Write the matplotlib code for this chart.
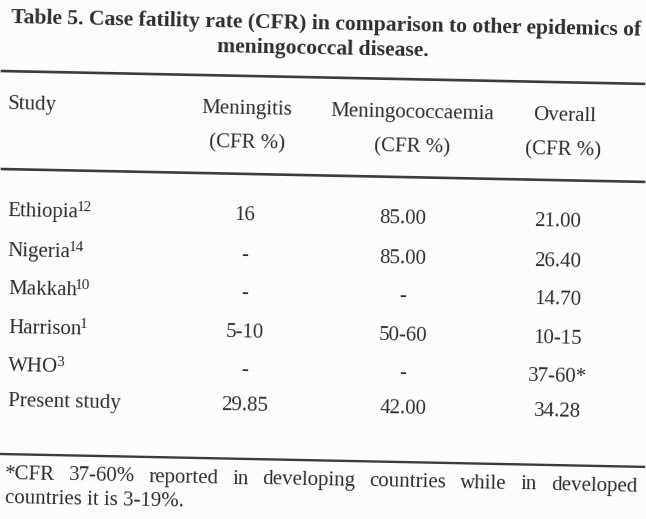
import math
import matplotlib
matplotlib.use("Agg")
import matplotlib.pyplot as plt

plt.rcParams['font.family'] = ['Liberation Serif', 'DejaVu Serif']

W, H = 646, 519
INK = '#2e2e2e'
SLOPE = 0.02   # the scan is slightly tilted: right side sits lower
ANG = -math.degrees(math.atan(SLOPE))

title = ["Table 5. Case fatility rate (CFR) in comparison to other epidemics of",
         "meningococcal disease."]
headers = [("Study", ""), ("Meningitis", "(CFR %)"),
           ("Meningococcaemia", "(CFR %)"), ("Overall", "(CFR %)")]
studies = ["Ethiopia", "Nigeria", "Makkah", "Harrison", "WHO", "Present study"]
refs = ["12", "14", "10", "1", "3", ""]
meningitis = ["16", "-", "-", "5-10", "-", "29.85"]
meningococcaemia = ["85.00", "85.00", "-", "50-60", "-", "42.00"]
overall = ["21.00", "26.40", "14.70", "10-15", "37-60*", "34.28"]
footnote = ["*CFR 37-60% reported in developing countries while in developed",
            "countries it is 3-19%."]

fig = plt.figure(figsize=(W / 100, H / 100), dpi=100)
fig.patch.set_facecolor('#fcfcfa')
r = fig.canvas.get_renderer()


def px(x, y):
    # y is given for the untilted page, shift it down with x
    return x / W, 1 - (y + SLOPE * x) / H


def txt(x, y, s, **kw):
    kw.setdefault('color', INK)
    kw.setdefault('fontsize', 15)
    kw.setdefault('va', 'center')
    return fig.text(*px(x, y), s, rotation=ANG, rotation_mode='anchor', **kw)


def width(s, **kw):
    t = fig.text(0, 0, s, **kw)
    w = t.get_window_extent(r).width
    t.remove()
    return w


def rule(y, x0=2, x1=644, lw=1.7):
    (a, b), (c, d) = px(x0, y), px(x1, y)
    fig.add_artist(plt.Line2D([a, c], [b, d], color='#3c3c3c', lw=lw,
                              transform=fig.transFigure))


# title, fitted to width
fs = 15 * 633 / width(title[0], fontsize=15, fontweight='bold')
txt(326, 18, title[0], ha='center', fontweight='bold', fontsize=fs)
txt(323, 42.5, title[1], ha='center', fontweight='bold', fontsize=fs)

rule(71, lw=1.9)
rule(169, lw=1.9)
rule(454, x0=0, x1=644, lw=1.7)

col_head = [8, 247, 412, 565]
col_val = [8, 245, 403, 558]
for i, (h1, h2) in enumerate(headers):
    ha = 'left' if i == 0 else 'center'
    txt(col_head[i], 104.5, h1, ha=ha)
    if h2:
        txt(col_head[i] - (2 if i == 3 else 0), 139, h2, ha=ha)

row_y = [211, 251, 289, 328, 366, 401]
for j, y in enumerate(row_y):
    txt(col_val[0], y, studies[j], ha='left')
    if refs[j]:
        wx = width(studies[j], fontsize=15)
        txt(col_val[0] + wx - 2, y - 5, refs[j], ha='left', fontsize=11)
    txt(col_val[1], y, meningitis[j], ha='center')
    txt(col_val[2], y, meningococcaemia[j], ha='center')
    txt(col_val[3], y, overall[j], ha='center')

# footnote, first line justified
words = footnote[0].split()
fs2 = 15
widths = [width(wd, fontsize=fs2) for wd in words]
gap = (637 - 5 - sum(widths)) / (len(words) - 1)
x = 5
for wd, ww in zip(words, widths):
    txt(x, 479, wd, fontsize=fs2, ha='left', va='baseline')
    x += ww + gap
txt(5, 503, footnote[1], fontsize=fs2, ha='left', va='baseline')

fig.savefig("out.png", dpi=100, facecolor=fig.get_facecolor())
